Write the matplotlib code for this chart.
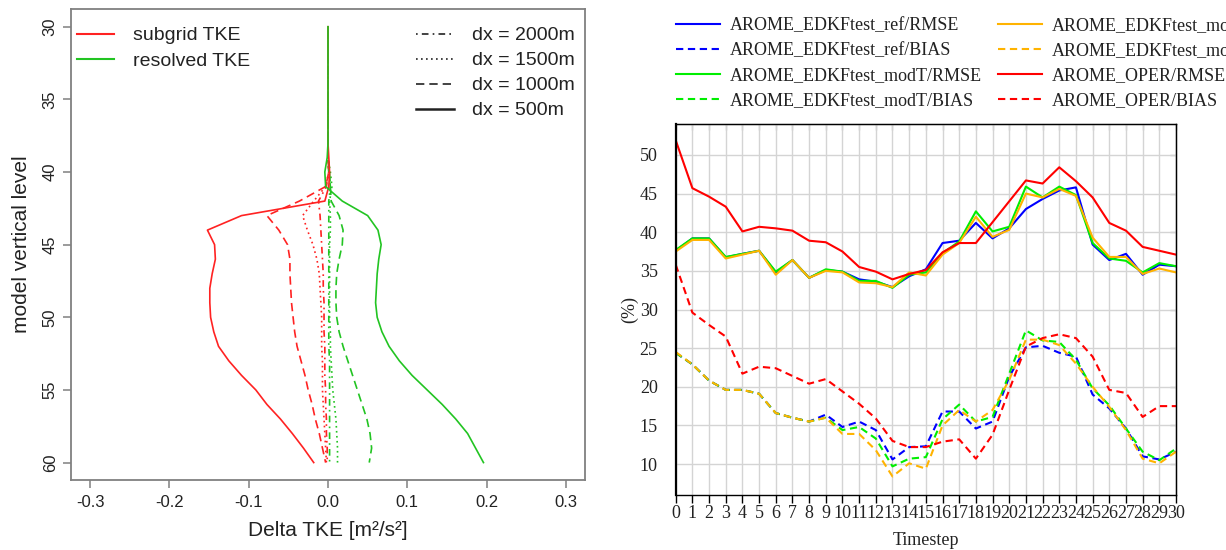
import matplotlib.pyplot as plt
from matplotlib.lines import Line2D

plt.rcParams['axes.unicode_minus'] = False

# ---- left panel: TKE difference profiles, model levels 30..60 ----
levels = list(range(30, 61))

sub_500 = [0, 0, 0, 0, 0, 0, 0, 0, 0, 0.001, 0.002, 0.001, -0.004, -0.109, -0.152, -0.143,
           -0.142, -0.146, -0.149, -0.149, -0.148, -0.144, -0.138, -0.125, -0.109, -0.091,
           -0.077, -0.060, -0.045, -0.031, -0.018]
res_500 = [0, 0, 0, 0, 0, 0, 0, 0, 0, -0.001, -0.004, -0.003, 0.018, 0.050, 0.063, 0.067,
           0.064, 0.062, 0.061, 0.060, 0.062, 0.068, 0.077, 0.090, 0.106, 0.125,
           0.144, 0.161, 0.176, 0.186, 0.196]
sub_1000 = [0, 0, 0, 0, 0, 0, 0, 0, 0, 0, 0.001, -0.003, -0.036, -0.077, -0.062, -0.051,
            -0.048, -0.048, -0.047, -0.046, -0.044, -0.042, -0.039, -0.034, -0.029, -0.025,
            -0.020, -0.016, -0.011, -0.007, -0.003]
res_1000 = [0, 0, 0, 0, 0, 0, 0, 0, 0, 0, 0.002, 0.003, 0.004, 0.014, 0.019, 0.018,
            0.014, 0.011, 0.010, 0.010, 0.011, 0.014, 0.019, 0.025, 0.031, 0.037,
            0.043, 0.049, 0.053, 0.055, 0.052]
sub_1500 = [0, 0, 0, 0, 0, 0, 0, 0, 0, 0, 0.001, -0.003, -0.018, -0.032, -0.026, -0.019,
            -0.014, -0.011, -0.010, -0.009, -0.008, -0.008, -0.008, -0.007, -0.007, -0.007,
            -0.006, -0.005, -0.004, -0.003, -0.002]
res_1500 = [0, 0, 0, 0, 0, 0, 0, 0, 0, 0, 0.003, 0.005, 0.002, 0.003, 0.003, 0.002,
            0.002, 0.002, 0.002, 0.002, 0.002, 0.003, 0.003, 0.004, 0.005, 0.006,
            0.008, 0.010, 0.011, 0.012, 0.012]
sub_2000 = [0, 0, 0, 0, 0, 0, 0, 0, 0, 0, 0.001, -0.002, -0.012, -0.010, -0.009, -0.008,
            -0.007, -0.006, -0.006, -0.005, -0.005, -0.005, -0.004, -0.004, -0.004, -0.003,
            -0.003, -0.002, -0.002, -0.001, -0.001]
res_2000 = [0, 0, 0, 0, 0, 0, 0, 0, 0, 0, 0.001, 0.003, 0.001, 0.001, 0.001, 0.001,
            0.001, 0.001, 0.001, 0.001, 0.001, 0.001, 0.001, 0.002, 0.002, 0.002,
            0.002, 0.002, 0.002, 0.002, 0.002]

dx_labels = ['dx = 2000m', 'dx = 1500m', 'dx = 1000m', 'dx = 500m']
tke_labels = ['subgrid TKE', 'resolved TKE']

# ---- right panel: scores per timestep ----
timesteps = list(range(31))
ref_rmse = [37.6, 39.2, 39.2, 36.75, 37.2, 37.6, 34.8, 36.4, 34.1, 35.1, 34.9, 33.9, 33.6, 32.9,
            34.3, 35.2, 38.6, 38.9, 41.2, 39.2, 40.5, 43.0, 44.3, 45.4, 45.8, 38.4, 36.4, 37.2,
            34.5, 35.8, 35.6]
ref_bias = [24.4, 22.9, 20.8, 19.6, 19.6, 19.1, 16.6, 16.0, 15.5, 16.4, 14.8, 15.5, 14.4, 10.6,
            12.2, 12.3, 16.8, 16.8, 14.6, 15.5, 21.3, 25.1, 25.3, 24.4, 23.9, 19.0, 17.2, 14.6,
            11.0, 10.6, 11.6]
modt_rmse = [37.7, 39.2, 39.2, 36.8, 37.2, 37.6, 34.9, 36.4, 34.1, 35.2, 34.9, 33.7, 33.7, 32.8,
             34.5, 34.8, 37.3, 38.8, 42.7, 40.1, 40.7, 45.9, 44.5, 45.9, 44.8, 38.6, 36.6, 36.3,
             34.8, 36.0, 35.6]
modt_bias = [24.4, 22.9, 20.8, 19.6, 19.6, 19.1, 16.6, 16.0, 15.5, 16.0, 14.4, 14.8, 13.3, 9.7,
             10.7, 10.9, 15.8, 17.7, 15.5, 16.1, 21.7, 27.3, 26.0, 25.8, 23.5, 19.8, 17.6, 14.6,
             11.6, 10.5, 12.0]
modtke_rmse = [37.5, 39.0, 39.0, 36.6, 37.1, 37.6, 34.5, 36.4, 34.1, 35.0, 34.8, 33.5, 33.4, 32.9,
               34.8, 34.4, 37.1, 38.6, 42.0, 39.4, 40.3, 45.0, 44.5, 45.6, 44.7, 39.3, 36.8, 36.8,
               34.6, 35.3, 34.8]
modtke_bias = [24.5, 22.9, 20.8, 19.6, 19.6, 19.1, 16.6, 16.0, 15.5, 16.0, 13.9, 13.9, 11.8, 8.4,
               10.1, 9.4, 15.0, 17.0, 15.5, 17.0, 20.9, 26.1, 26.1, 25.4, 23.0, 20.0, 17.4, 14.4,
               10.7, 10.1, 11.6]
oper_rmse = [51.9, 45.7, 44.6, 43.3, 40.1, 40.7, 40.5, 40.2, 38.9, 38.7, 37.5, 35.5, 34.9, 33.9,
             34.6, 35.1, 37.4, 38.6, 38.6, 41.3, 44.0, 46.7, 46.3, 48.4, 46.6, 44.5, 41.2, 40.2,
             38.1, 37.6, 37.1]
oper_bias = [35.8, 29.6, 28.0, 26.5, 21.7, 22.6, 22.4, 21.4, 20.4, 21.0, 19.4, 17.8, 15.9, 13.0,
             12.2, 12.2, 12.9, 13.2, 10.7, 13.8, 19.6, 25.2, 26.3, 26.8, 26.3, 23.9, 19.6, 19.2,
             16.1, 17.5, 17.5]

series_names = ['AROME_EDKFtest_ref', 'AROME_EDKFtest_modT', 'AROME_EDKFtest_modTKE', 'AROME_OPER']

W, H = 1226, 550
fig = plt.figure(figsize=(W / 100, H / 100), dpi=100)


def box(left, top, right, bottom):
    return [left / W, 1 - bottom / H, (right - left) / W, (bottom - top) / H]


def plotProfiles():
    ax = fig.add_axes(box(71, 9.3, 585, 480))
    red, green = '#ff2222', '#22c422'
    styles = [(0, (1, 2.5, 4, 2.5)), (0, (1, 2)), (0, (5, 3)), '-']
    subs = [sub_2000, sub_1500, sub_1000, sub_500]
    ress = [res_2000, res_1500, res_1000, res_500]
    for ls, s, r in zip(styles, subs, ress):
        ax.plot(s, levels, color=red, lw=1.2, ls=ls)
        ax.plot(r, levels, color=green, lw=1.2, ls=ls)

    ax.set_xlim(-0.324, 0.324)
    ax.set_ylim(61.2, 28.8)
    ax.set_xticks([-0.3, -0.2, -0.1, 0.0, 0.1, 0.2, 0.3])
    ax.set_yticks([30, 35, 40, 45, 50, 55, 60])
    for sp in ax.spines.values():
        sp.set_color('#808080')
        sp.set_linewidth(1.3)
    ax.tick_params(direction='out', length=5.5, width=1.1, color='#808080',
                   labelcolor='#222222', labelsize=12)
    ax.tick_params(axis='y', labelrotation=90, pad=4)
    ax.tick_params(axis='x', pad=5)
    plt.setp(ax.get_yticklabels(), va='center', family='Liberation Sans')
    plt.setp(ax.get_xticklabels(), family='Liberation Sans')

    ax.set_xlabel('Delta TKE [m²/s²]', fontsize=15, family='Liberation Sans', color='#222222')
    ax.set_ylabel('model vertical level', fontsize=15, family='Liberation Sans', color='#222222')
    ax.xaxis.set_label_coords(0.5, -0.088)
    ax.yaxis.set_label_coords(-0.078, 0.5)

    h1 = [Line2D([], [], color=red, lw=1.5), Line2D([], [], color=green, lw=1.5)]
    leg1 = ax.legend(h1, tke_labels, loc='upper left', bbox_to_anchor=(0.011, 0.963),
                     frameon=False, borderpad=0, borderaxespad=0, handlelength=1.9,
                     handletextpad=1.0, labelspacing=0.42,
                     prop={'family': 'Liberation Sans', 'size': 14})
    for t in leg1.get_texts():
        t.set_color('#222222')
    ax.add_artist(leg1)
    h2 = [Line2D([], [], color='#222222', lw=1.2, ls=ls) for ls in styles]
    h2[-1].set_linewidth(1.8)
    leg2 = ax.legend(h2, dx_labels, loc='upper right', bbox_to_anchor=(0.98, 0.963),
                     frameon=False, borderpad=0, borderaxespad=0, handlelength=2.0,
                     handletextpad=0.9, labelspacing=0.38,
                     prop={'family': 'Liberation Sans', 'size': 14})
    for t in leg2.get_texts():
        t.set_color('#222222')


def plotScores():
    ax = fig.add_axes(box(675.7, 124, 1176, 495))
    colors = ['#0000ff', '#00ee00', '#ffb300', '#ff0000']
    rmse = [ref_rmse, modt_rmse, modtke_rmse, oper_rmse]
    bias = [ref_bias, modt_bias, modtke_bias, oper_bias]
    dash = (0, (3.5, 2.2))
    handles = []
    for c, r, b in zip(colors, rmse, bias):
        l1, = ax.plot(timesteps, r, color=c, lw=1.5)
        l2, = ax.plot(timesteps, b, color=c, lw=1.5, ls=dash)
        handles.append((l1, l2))

    ax.set_xlim(0, 30)
    ax.set_ylim(6.0, 54.0)
    ax.set_xticks(timesteps)
    ax.set_yticks([10, 15, 20, 25, 30, 35, 40, 45, 50])
    ax.grid(True, color='#d4d4d4', lw=1)
    ax.set_axisbelow(True)
    for sp in ax.spines.values():
        sp.set_color('black')
        sp.set_linewidth(1.0)
    ax.spines['left'].set_linewidth(1.6)
    ax.tick_params(axis='x', direction='out', length=5.5, width=1, pad=2, labelsize=13)
    ax.tick_params(axis='y', length=0, pad=13, labelsize=13)
    for t in ax.get_xticklabels() + ax.get_yticklabels():
        t.set_family('Liberation Serif')
        t.set_color('#222222')
    # inward ticks on top and right edge
    ax2 = ax.secondary_xaxis('top')
    ax2.set_xticks(timesteps)
    ax2.tick_params(direction='in', length=4, labeltop=False)
    ax3 = ax.secondary_yaxis('right')
    ax3.set_yticks([10, 15, 20, 25, 30, 35, 40, 45, 50])
    ax3.tick_params(direction='in', length=4, labelright=False)

    ax.set_xlabel('Timestep', fontsize=13, family='Liberation Serif', color='#222222')
    ax.set_ylabel('(%)', fontsize=13, family='Liberation Serif', color='#222222')
    ax.xaxis.set_label_coords(0.5, -0.1)
    ax.yaxis.set_label_coords(-0.074, 0.5)

    col1 = [handles[0][0], handles[0][1], handles[1][0], handles[1][1]]
    col2 = [handles[2][0], handles[2][1], handles[3][0], handles[3][1]]
    names1 = [series_names[0] + '/RMSE', series_names[0] + '/BIAS',
              series_names[1] + '/RMSE', series_names[1] + '/BIAS']
    names2 = [series_names[2] + '/RMSE', series_names[2] + '/BIAS',
              series_names[3] + '/RMSE', series_names[3] + '/BIAS']
    # second column runs off the right edge, as in the original image
    for hs, ns, x in [(col1, names1, 675.6), (col2, names2, 997.6)]:
        leg = fig.legend(hs, ns, loc='upper left', bbox_to_anchor=(x / W, 1 - 17 / H),
                         frameon=False, borderpad=0, borderaxespad=0, handlelength=2.45,
                         handletextpad=0.55, labelspacing=0.44,
                         prop={'family': 'Liberation Serif', 'size': 13})
        for t in leg.get_texts():
            t.set_color('#222222')


plotProfiles()
plotScores()
fig.savefig('out.png', dpi=100)
